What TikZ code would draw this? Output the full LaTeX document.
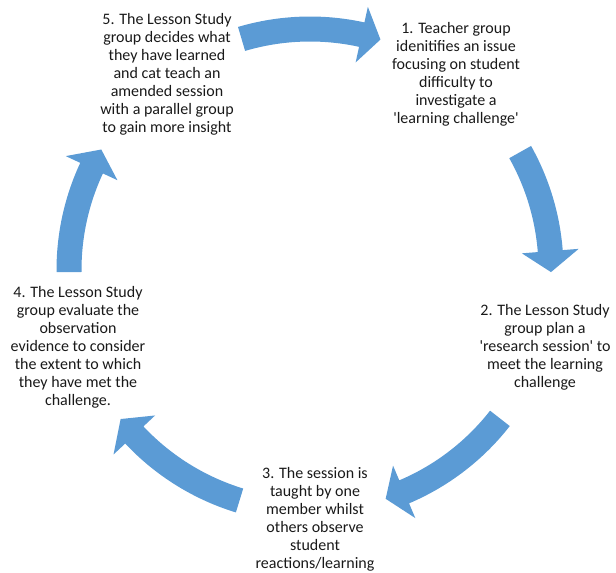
\documentclass[tikz,border=0pt]{standalone}
\usepackage{fontspec}
\setmainfont{Carlito}[Ligatures=TeXOff]
\usepackage{xcolor}
\definecolor{cycleblue}{RGB}{91,155,213}

\begin{document}
\begin{tikzpicture}[x=0.75pt, y=0.75pt,
    stage/.style={align=center, text=black!90, inner sep=0pt,
        font=\fontsize{12pt}{13.5pt}\selectfont}]
    \useasboundingbox (0,0) rectangle (616,572);

    % Curved arrows round the cycle: tail angle / head base angle / tip angle
    \begin{scope}[shift={(310,302)}]
    \foreach \a/\b/\c in {106.5/77.6/73, 29.3/4.5/-0.5, -38/-67/-71.7,
                          -107/-136.8/-141.8, 180.5/155/150} {
        \fill[cycleblue] (\a:253.5) arc[start angle=\a, end angle=\b, radius=253.5]
            -- (\b:269.5) -- (\c:241) -- (\b:212.5) -- (\b:228.5)
            arc[start angle=\b, end angle=\a, radius=228.5] -- cycle;
    }
    \end{scope}

    % Stages of the cycle
    \node[stage] (s1) at (456,498) {1. Teacher group\\idenitifies an issue\\focusing on student\\difficulty to\\investigate a\\'learning challenge'};
    \node[stage] (s2) at (545,225) {2. The Lesson Study\\group plan a\\'research session' to\\meet the learning\\challenge};
    \node[stage] (s3) at (315,53) {3. The session is\\taught by one\\member whilst\\others observe\\student\\reactions/learning};
    \node[stage] (s4) at (78,225) {4. The Lesson Study\\group evaluate the\\observation\\evidence to consider\\the extent to which\\they have met the\\challenge.};
    \node[stage] (s5) at (167,498) {5. The Lesson Study\\group decides what\\they have learned\\and cat teach an\\amended session\\with a parallel group\\to gain more insight};
\end{tikzpicture}
\end{document}
